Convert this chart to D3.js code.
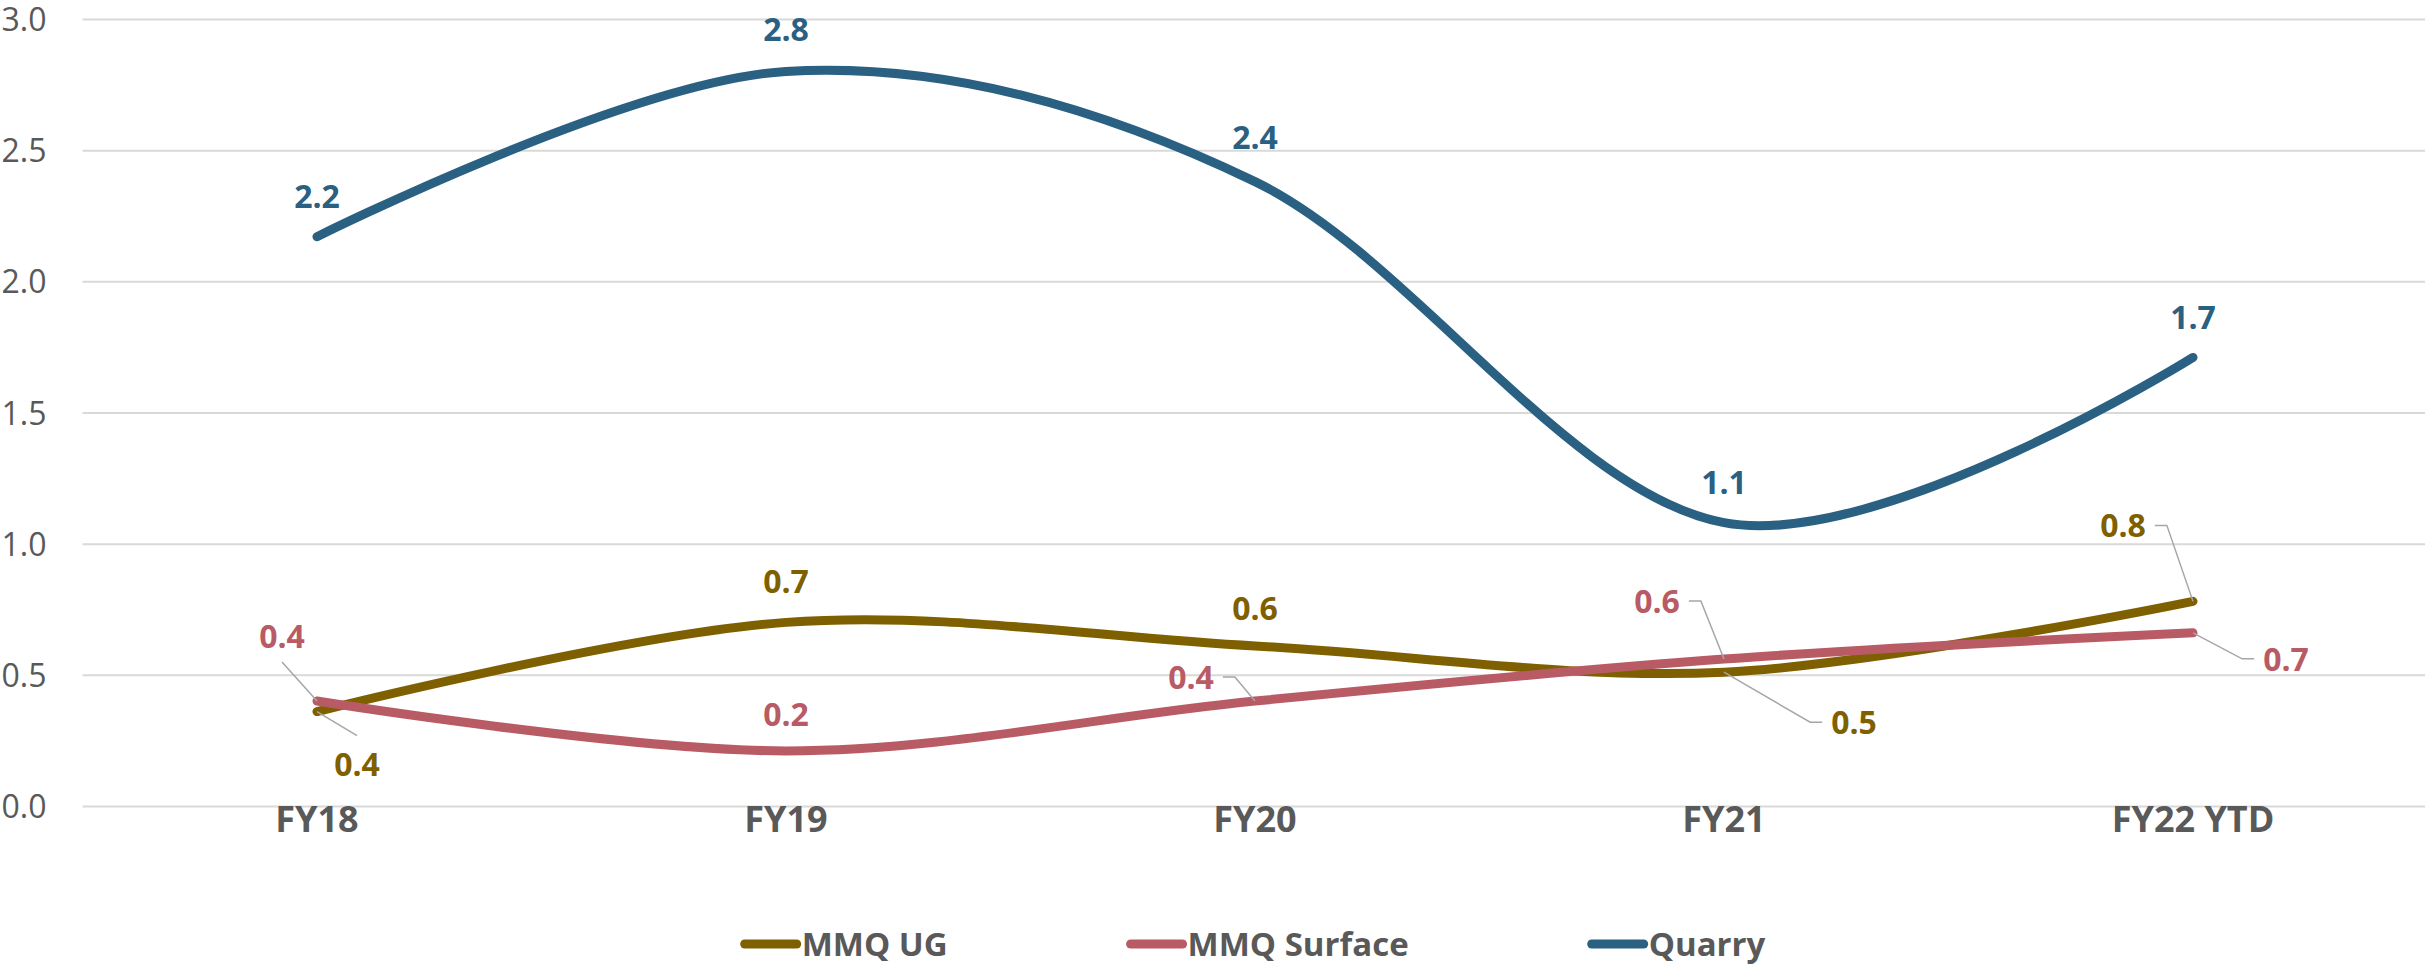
<!DOCTYPE html>
<html lang="en">
<head>
<meta charset="utf-8">
<title>Line Chart</title>
<script src="https://cdn.jsdelivr.net/npm/d3@7"></script>
<style>
  body { margin: 0; background: #fff; }
  .chart text { font-family: "Open Sans", sans-serif; }
  .yAxis text { font-size: 32px; fill: #595959; }
  .xAxis text { font-size: 36px; font-weight: bold; fill: #595959; }
  .legend text { font-size: 33px; font-weight: bold; fill: #595959; }
  .lbl { font-size: 32px; font-weight: bold; }
</style>
</head>
<body>
<div class="chart"></div>
<script>
var w = 2425;
var h = 972;

// data
var categories = ["FY18", "FY19", "FY20", "FY21", "FY22 YTD"];
var seriesNames = ["MMQ UG", "MMQ Surface", "Quarry"];
var mmqUG = [0.36, 0.70, 0.61, 0.51, 0.78];
var mmqSurface = [0.40, 0.21, 0.40, 0.56, 0.66];
var quarry = [2.17, 2.80, 2.38, 1.08, 1.71];
var yTicks = [0, 0.5, 1.0, 1.5, 2.0, 2.5, 3.0];

var colors = ["#7F6000", "#B95B64", "#2A6082"];

// label placement relative to the point (x offset, baseline offset)
var labelOffsets = [
  [[40, 64], [0, -29], [0, -26], [130, 62], [-70, -64]],
  [[-35, -53], [0, -25], [-64, -12], [-67, -46], [93, 38]],
  [[0, -29], [0, -30], [0, -33], [0, -29], [0, -28]]
];

var series = [mmqUG, mmqSurface, quarry].map(function(vals, i) {
  return { name: seriesNames[i], color: colors[i], values: vals, offsets: labelOffsets[i] };
});

var plotL = 82.5, plotR = 2427.5, plotT = 19, plotB = 806;

var xScale = d3.scaleBand().domain(categories).range([plotL, plotR]).padding(0);
var yScale = d3.scaleLinear().domain([0, 3]).range([plotB, plotT]);
var cx = function(i) { return xScale(categories[i]) + xScale.bandwidth() / 2; };

var svg = d3.select("div.chart").append("svg")
  .attr("width", w).attr("height", h);

// gridlines + y labels
var yAxis = d3.axisLeft(yScale)
  .tickValues(yTicks)
  .tickFormat(d3.format(".1f"))
  .tickSize(-(plotR - plotL))
  .tickPadding(36);

var gy = svg.append("g").attr("class", "yAxis")
  .attr("transform", "translate(" + plotL + ",0)")
  .call(yAxis);
gy.select(".domain").remove();
gy.selectAll(".tick line").attr("stroke", "#d9d9d9").attr("stroke-width", 2);
gy.selectAll(".tick text").attr("dy", "0.36em");

// x labels
var xAxis = d3.axisBottom(xScale).tickSize(0).tickPadding(0);
var gx = svg.append("g").attr("class", "xAxis")
  .attr("transform", "translate(0," + plotB + ")")
  .call(xAxis);
gx.select(".domain").remove();

// lines
var line = d3.line()
  .x(function(d, i) { return cx(i); })
  .y(function(d) { return yScale(d); })
  .curve(d3.curveCardinal.tension(0));

svg.append("g").selectAll("path")
  .data(series)
  .enter()
  .append("path")
  .attr("d", function(d) { return line(d.values); })
  .attr("fill", "none")
  .attr("stroke", function(d) { return d.color; })
  .attr("stroke-width", 9)
  .attr("stroke-linecap", "round")
  .attr("stroke-linejoin", "round");

// data labels with leader lines
var leaders = svg.append("g");
var labels = svg.append("g");
var fmt = d3.format(".1f");

series.forEach(function(s) {
  s.values.forEach(function(v, i) {
    var px = cx(i), py = yScale(v);
    var off = s.offsets[i];
    var lx = px + off[0], ly = py + off[1];
    var t = labels.append("text")
      .attr("class", "lbl")
      .attr("x", lx).attr("y", ly)
      .attr("text-anchor", "middle")
      .attr("fill", s.color)
      .text(fmt(v));
    var tw = t.node().getComputedTextLength();
    var pts = null;
    if (Math.abs(off[0]) > tw / 2 + 25) {
      var ey = ly - 12;
      if (off[0] < 0) {
        pts = [[lx + tw / 2 + 9, ey], [lx + tw / 2 + 21, ey], [px, py]];
      } else {
        pts = [[px, py], [lx - tw / 2 - 21, ey], [lx - tw / 2 - 9, ey]];
      }
    } else if (Math.abs(off[1]) > 40) {
      if (off[1] > 0) {
        pts = [[px, py], [lx, ly - 40]];
      } else {
        pts = [[lx, ly + 14], [px, py]];
      }
    }
    if (pts) {
      leaders.append("path")
        .attr("d", d3.line()(pts))
        .attr("fill", "none")
        .attr("stroke", "#a6a6a6")
        .attr("stroke-width", 1.5);
    }
  });
});

// legend
var legend = svg.append("g").attr("class", "legend");
var items = legend.selectAll("g")
  .data(series)
  .enter()
  .append("g");
items.append("line")
  .attr("x1", 0).attr("x2", 52)
  .attr("y1", 0).attr("y2", 0)
  .attr("stroke", function(d) { return d.color; })
  .attr("stroke-width", 9)
  .attr("stroke-linecap", "round");
items.append("text")
  .attr("x", 57)
  .attr("dy", "0.36em")
  .text(function(d) { return d.name; });

var gap = 183, pos = 0, widths = [];
items.each(function() {
  var tw = d3.select(this).select("text").node().getComputedTextLength();
  widths.push(57 + tw);
});
var total = d3.sum(widths) + gap * (widths.length - 1);
var startX = (plotL + plotR) / 2 - total / 2;
items.attr("transform", function(d, i) {
  var x = startX + pos;
  pos += widths[i] + gap;
  return "translate(" + x + ",944)";
});
</script>
</body>
</html>
